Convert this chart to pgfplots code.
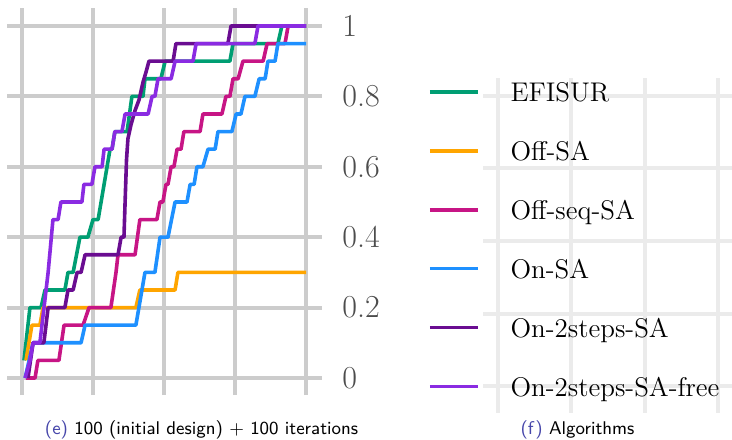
\documentclass[border=0pt]{standalone}
\usepackage{pgfplots}
\pgfplotsset{compat=1.18}

\definecolor{cEfisur}{RGB}{0,158,115}
\definecolor{cOffSA}{RGB}{255,165,0}
\definecolor{cOffSeq}{RGB}{199,21,133}
\definecolor{cOnSA}{RGB}{30,144,255}
\definecolor{cTwoSteps}{RGB}{106,13,145}
\definecolor{cTwoFree}{RGB}{138,43,226}
\definecolor{gridL}{RGB}{204,204,204}
\definecolor{gridR}{RGB}{235,235,235}
\definecolor{capblue}{RGB}{70,70,170}

\begin{document}
\begin{tikzpicture}
\useasboundingbox (0,0) rectangle (366pt,219.5pt);

% right panel: bare grid behind the legend
\begin{axis}[
  at={(241.5pt,13pt)}, anchor=south west,
  scale only axis, width=124.5pt, height=167.5pt,
  xmin=-0.205, xmax=3.192, ymin=-0.372, ymax=4.248,
  xtick={0,1,2,3}, ytick={0,1,2,3,4},
  xticklabels={}, yticklabels={},
  major tick length=0pt,
  axis line style={draw=none},
  grid=major, grid style={gridR, line width=2pt},
]
\end{axis}

% left panel: proportion of solved runs
\begin{axis}[
  at={(3.5pt,22pt)}, anchor=south west,
  scale only axis, width=157.5pt, height=193.5pt,
  xmin=-5.28, xmax=105.63, ymin=-0.0483, ymax=1.0511,
  xtick={0,25,50,75,100}, ytick={0,0.2,0.4,0.6,0.8,1},
  xticklabels={},
  yticklabel pos=right,
  major tick length=0pt,
  axis line style={draw=none},
  grid=major, grid style={gridL, line width=2pt},
  /pgf/number format/assume math mode=true,
  yticklabel style={font=\fontsize{16}{19}\selectfont, text=black!70, inner sep=0pt, anchor=west, xshift=10pt},
  every axis plot/.append style={line width=1.8pt, line join=round},
  legend cell align=left,
  legend style={at={(1.3365,0.8096)}, anchor=north west, draw=none, fill=none,
    inner sep=0pt, outer sep=0pt, row sep=15.95pt, column sep=15.5pt,
    font=\fontsize{13.5}{16}\selectfont,
    nodes={inner sep=0pt, anchor=base west, text height=10pt, text depth=3.5pt}},
  legend image code/.code={\draw[#1, line width=1.8pt] (0pt,4.85pt) -- (24pt,4.85pt);},
]
\addplot[cEfisur] coordinates {
 (0.7,0.05) (2.8,0.20) (6.7,0.20) (8.1,0.25) (15.1,0.25) (16.2,0.30) (18.0,0.30)
 (20.4,0.40) (23.2,0.40) (25.0,0.45) (26.8,0.45) (31.0,0.65) (31.7,0.65) (32.7,0.70)
 (37.0,0.70) (38.7,0.80) (42.6,0.80) (43.3,0.85) (48.9,0.85) (50.4,0.90) (73.2,0.90)
 (74.3,0.95) (90.1,0.95) (91.5,1.00) (100,1.00)};
\addlegendentry{EFISUR}

\addplot[cOffSA] coordinates {
 (1.4,0.05) (3.5,0.15) (6.3,0.15) (7.4,0.20) (40.1,0.20) (41.5,0.25) (53.9,0.25)
 (54.9,0.30) (100,0.30)};
\addlegendentry{Off-SA}

\addplot[cOffSeq] coordinates {
 (1.4,0) (4.6,0) (5.6,0.05) (13.0,0.05) (14.8,0.15) (21.5,0.15) (23.6,0.20)
 (31.3,0.20) (33.1,0.30) (33.8,0.35) (39.8,0.35) (41.5,0.45) (47.5,0.45) (48.6,0.50)
 (49.6,0.50) (50.7,0.55) (51.4,0.55) (52.5,0.60) (53.5,0.60) (54.6,0.65) (56.0,0.65)
 (57.0,0.70) (62.7,0.70) (63.7,0.75) (70.4,0.75) (71.8,0.80) (73.2,0.80) (74.3,0.85)
 (76.1,0.85) (77.8,0.90) (84.9,0.90) (86.3,0.95) (92.6,0.95) (93.7,1.00) (100,1.00)};
\addlegendentry{Off-seq-SA}

\addplot[cOnSA] coordinates {
 (1.1,0) (3.9,0.10) (20.8,0.10) (22.2,0.15) (40.1,0.15) (43.3,0.30) (46.8,0.30)
 (48.6,0.40) (51.4,0.40) (53.9,0.50) (58.1,0.50) (59.2,0.55) (60.6,0.55) (61.6,0.60)
 (63.7,0.60) (65.5,0.65) (68.0,0.65) (69.0,0.70) (73.9,0.70) (75.4,0.75) (77.1,0.75)
 (78.5,0.80) (82.0,0.80) (83.5,0.85) (85.6,0.85) (86.6,0.90) (89.1,0.90) (90.1,0.95)
 (100,0.95)};
\addlegendentry{On-SA}

\addplot[cTwoSteps] coordinates {
 (2.1,0) (3.9,0.10) (7.7,0.10) (9.2,0.20) (15.1,0.20) (16.2,0.25) (18.0,0.25)
 (19.4,0.30) (20.8,0.30) (22.2,0.35) (33.8,0.35) (34.9,0.40) (35.9,0.40) (36.3,0.50)
 (36.8,0.62) (37.3,0.68) (38.4,0.72) (39.8,0.76) (41.2,0.79) (42.6,0.84) (43.7,0.87)
 (44.7,0.90) (53.2,0.90) (54.2,0.95) (72.5,0.95) (73.6,1.00) (100,1.00)};
\addlegendentry{On-2steps-SA}

\addplot[cTwoFree] coordinates {
 (1.1,0) (2.8,0.05) (3.9,0.10) (6.3,0.10) (9.2,0.30) (10.9,0.45) (12.7,0.45)
 (13.7,0.50) (21.1,0.50) (21.8,0.55) (24.6,0.55) (25.7,0.60) (28.2,0.60) (28.9,0.65)
 (31.7,0.65) (32.7,0.70) (35.2,0.70) (36.3,0.75) (44.4,0.75) (45.8,0.80) (46.8,0.80)
 (47.9,0.85) (52.5,0.85) (53.9,0.90) (60.2,0.90) (61.3,0.95) (82.0,0.95) (83.1,1.00)
 (100,1.00)};
\addlegendentry{On-2steps-SA-free}
\end{axis}

\node[font=\sffamily\fontsize{9.2}{11}\selectfont, anchor=base] at (100.75pt,2.5pt)
  {\textcolor{capblue}{(e)} 100 (initial design) + 100 iterations};
\node[font=\sffamily\fontsize{9.2}{11}\selectfont, anchor=base] at (288.75pt,2.5pt)
  {\textcolor{capblue}{(f)} Algorithms};
\end{tikzpicture}
\end{document}
